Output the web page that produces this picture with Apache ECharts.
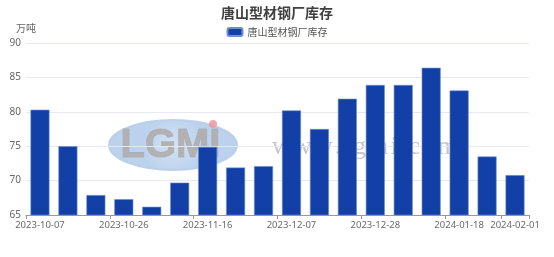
<!DOCTYPE html>
<html>
<head>
<meta charset="utf-8">
<script src="https://cdn.jsdelivr.net/npm/echarts@6/dist/echarts.min.js"></script>
<style>
html,body{margin:0;padding:0;background:#fff;}
#chart{width:554px;height:257px;}
</style>
</head>
<body>
<div id="chart"></div>
<script>
// ---- data ----
const seriesName = '唐山型材钢厂库存';
const categories = ['2023-10-07','2023-10-12','2023-10-19','2023-10-26','2023-11-02','2023-11-09',
  '2023-11-16','2023-11-23','2023-11-30','2023-12-07','2023-12-14','2023-12-21',
  '2023-12-28','2024-01-04','2024-01-11','2024-01-18','2024-01-25','2024-02-01'];
const barValues = [80.3, 75.0, 67.9, 67.3, 66.2, 69.7, 74.9, 71.9, 72.1, 80.2, 77.5, 81.9,
  83.9, 83.9, 86.4, 83.1, 73.5, 70.8];
const yTicks = [65, 70, 75, 80, 85, 90];
const yUnit = '万吨';

// ---- build ----
const showLabel = (i) => i % 3 === 0 || i === categories.length - 1;
const hs = '\u200A';

const chart = echarts.init(document.getElementById('chart'), null, {renderer: 'canvas'});
chart.setOption({
  animation: false,
  backgroundColor: '#fff',
  title: {
    text: seriesName, left: 'center', top: 1,
    textStyle: {fontSize: 14, fontWeight: 'bold', color: '#404040', fontFamily: 'Noto Sans CJK SC'}
  },
  legend: {
    top: 22, left: 'center', itemWidth: 15, itemHeight: 8, itemGap: 8,
    icon: 'roundRect',
    textStyle: {fontSize: 10, color: '#555', fontFamily: 'Noto Sans CJK SC'},
    data: [seriesName]
  },
  grid: {left: 26, right: 25, top: 43, bottom: 42, containLabel: false},
  graphic: [
    {type: 'ellipse', z: 0, shape: {cx: 173, cy: 145, rx: 64, ry: 25}, silent: true,
      style: {fill: new echarts.graphic.RadialGradient(0.5, 0.5, 0.6, [
        {offset: 0, color: 'rgba(205,222,242,0.85)'}, {offset: 1, color: 'rgba(165,195,230,0.75)'}]),
        stroke: 'rgba(185,205,232,0.9)', lineWidth: 2}},
    {type: 'text', z: 0, left: 120, top: 125, silent: true,
      style: {text: 'LGMI', fontSize: 40, fontWeight: 'bold', fontFamily: 'Liberation Sans',
        fill: 'rgba(176,172,172,0.9)', stroke: 'rgba(150,146,146,0.5)', lineWidth: 1}},
    {type: 'circle', z: 0, shape: {cx: 213, cy: 124, r: 4}, silent: true,
      style: {fill: 'rgba(236,150,160,0.85)'}},
    {type: 'text', z: 0, left: 272, top: 134, silent: true,
      style: {text: ['w','w','w','.','l','g','m','i','.','c','o','m'].join(hs), fontSize: 26,
        fontFamily: 'Liberation Serif', fill: 'rgba(160,160,160,0.6)'}}
  ],
  xAxis: {
    type: 'category', data: categories, boundaryGap: true,
    axisLine: {show: true, lineStyle: {color: '#999'}},
    axisTick: {show: true, length: 4, interval: (i) => showLabel(i), lineStyle: {color: '#999'}},
    axisLabel: {
      interval: (i) => showLabel(i), fontSize: 9.5, color: '#6a6a6a', margin: 5,
      fontFamily: 'Noto Sans', hideOverlap: false
    }
  },
  yAxis: {
    type: 'value', min: yTicks[0], max: yTicks[yTicks.length - 1], interval: yTicks[1] - yTicks[0],
    name: yUnit, nameGap: 10,
    nameTextStyle: {fontSize: 10, color: '#666', fontFamily: 'Noto Sans CJK SC', align: 'center'},
    axisLine: {show: false}, axisTick: {show: false},
    axisLabel: {fontSize: 10, color: '#666', margin: 5, fontFamily: 'Noto Sans'},
    splitLine: {lineStyle: {color: '#e6e9f0'}}
  },
  series: [{
    name: seriesName, type: 'bar', barWidth: 19, z: 2,
    itemStyle: {color: '#1240a6', borderColor: '#6f8fd0', borderWidth: 0.6},
    data: barValues
  }]
});
</script>
</body>
</html>
